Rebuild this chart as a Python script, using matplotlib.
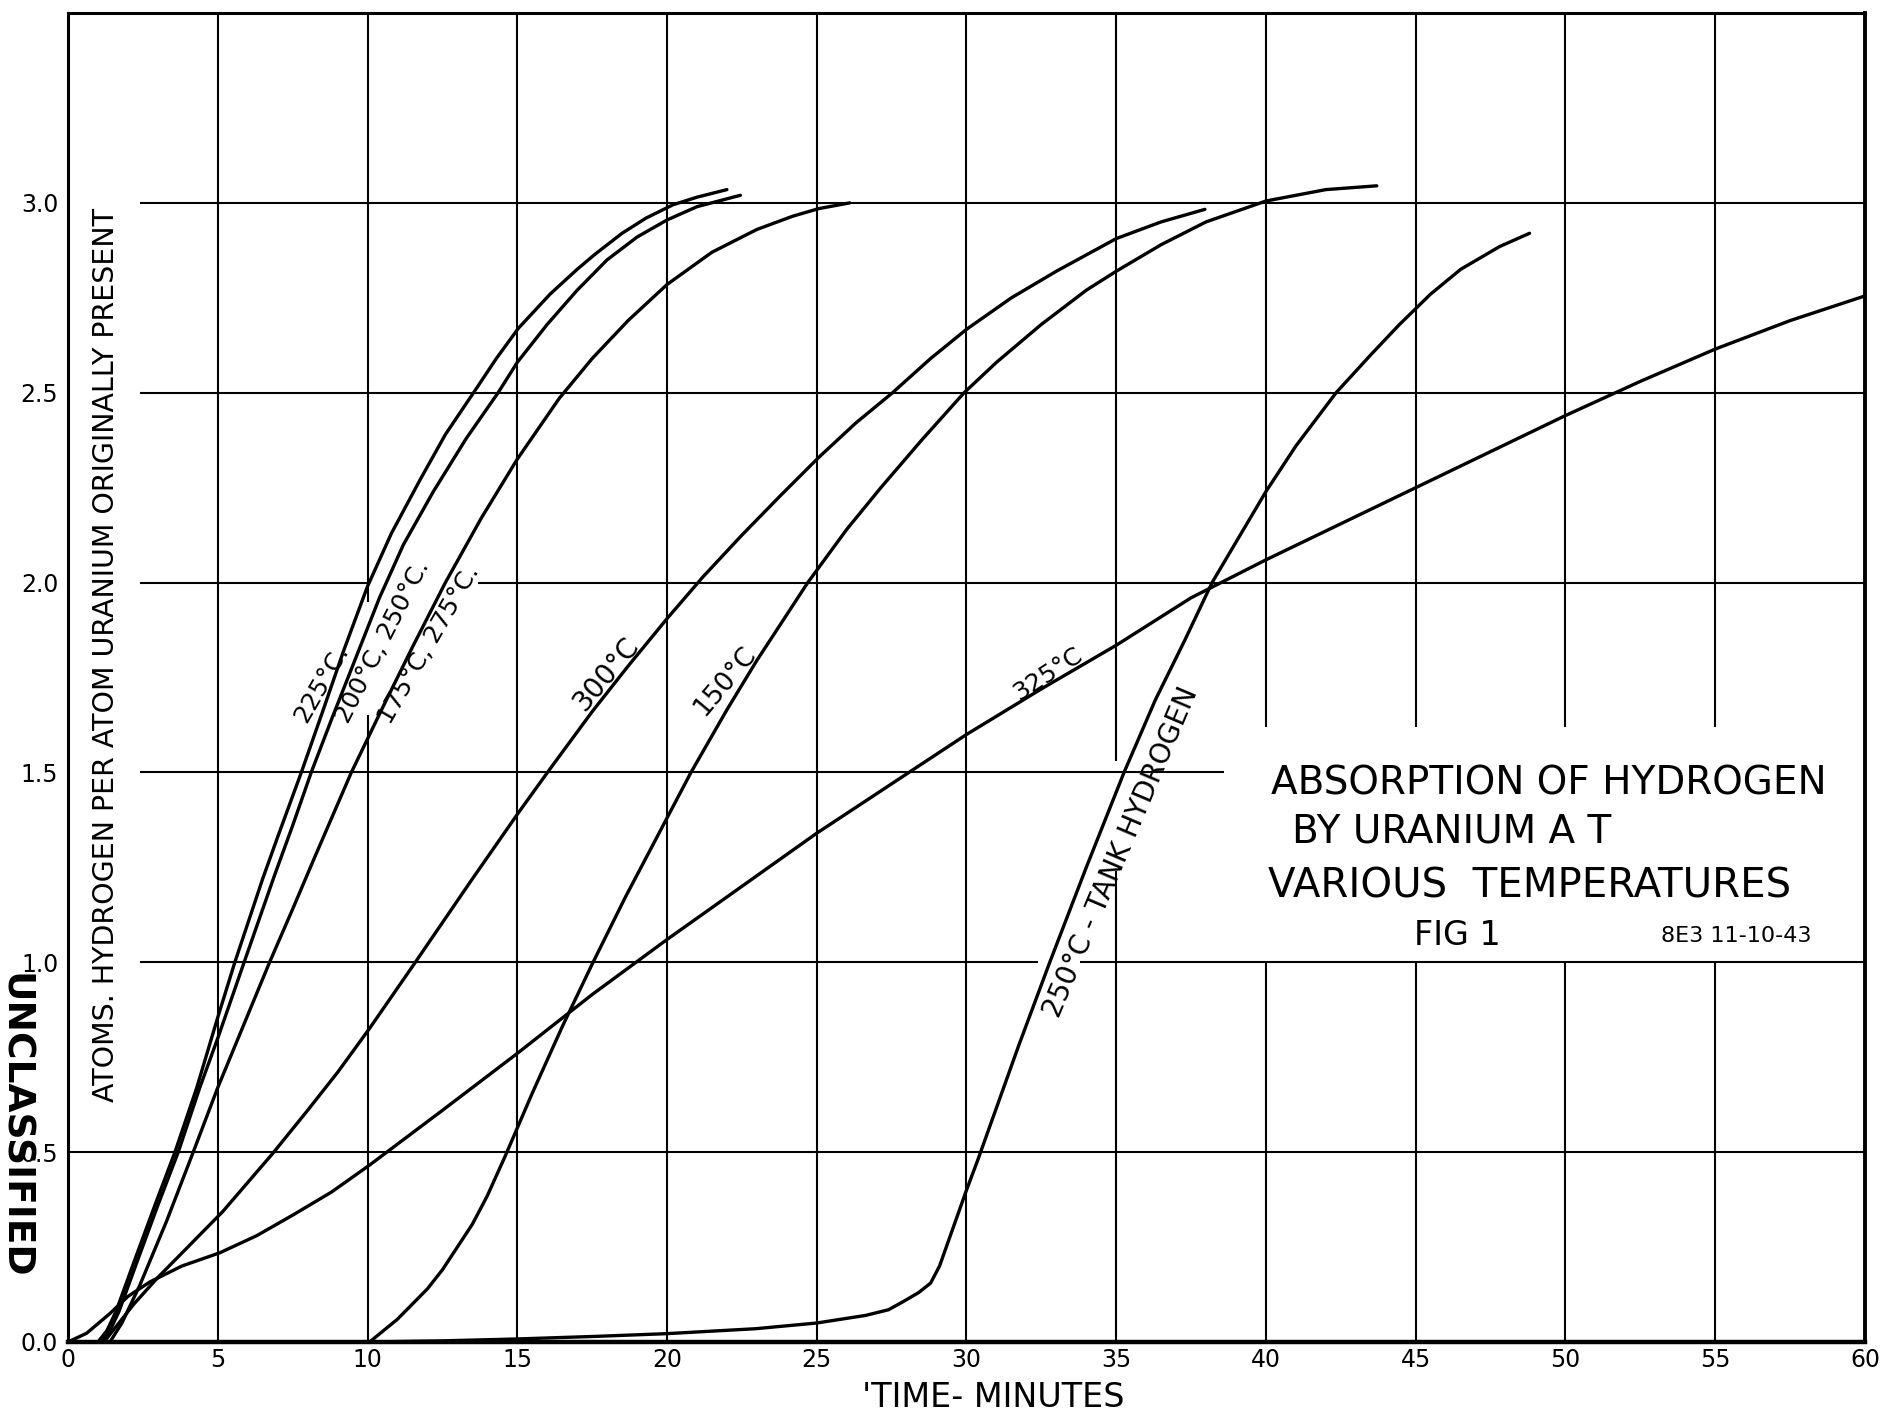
import matplotlib
matplotlib.use("Agg")
import matplotlib.pyplot as plt

# ---------------- data ----------------
t_225 = [1.0, 1.3, 1.6, 2.2, 2.9, 3.57, 4.3, 5.0, 5.57, 6.5, 7.0, 7.79, 8.5, 9.2, 10.0,
         10.8, 11.75, 12.6, 13.54, 14.3, 15.04, 16.1, 17.0, 17.6, 18.5, 19.3, 20.2, 21.0, 22.0]
h_225 = [0.0, 0.03, 0.08, 0.21, 0.36, 0.5, 0.67, 0.855, 1.0, 1.22, 1.33, 1.5, 1.66, 1.82, 1.99,
         2.13, 2.27, 2.39, 2.5, 2.59, 2.67, 2.76, 2.825, 2.865, 2.92, 2.96, 2.995, 3.015, 3.035]

t_200_250 = [1.1, 1.4, 1.7, 2.3, 3.0, 3.68, 4.4, 5.0, 5.88, 6.9, 7.5, 8.12, 8.8, 9.5, 10.4,
             11.2, 12.2, 13.3, 14.36, 15.0, 16.0, 17.0, 18.0, 19.0, 20.0, 21.0, 22.45]
h_200_250 = [0.0, 0.03, 0.08, 0.21, 0.36, 0.5, 0.67, 0.8, 1.0, 1.23, 1.36, 1.5, 1.64, 1.78, 1.96,
             2.1, 2.24, 2.38, 2.5, 2.58, 2.68, 2.77, 2.85, 2.91, 2.955, 2.99, 3.02]

t_175_275 = [1.4, 1.8, 2.4, 3.3, 4.18, 5.0, 6.73, 7.5, 8.2, 9.46, 10.5, 11.5, 12.6, 13.8,
             15.0, 16.4, 17.5, 18.7, 20.0, 21.5, 23.0, 24.2, 25.07, 26.1]
h_175_275 = [0.0, 0.05, 0.15, 0.32, 0.5, 0.67, 1.0, 1.14, 1.27, 1.5, 1.67, 1.83, 2.0, 2.17,
             2.325, 2.485, 2.59, 2.69, 2.785, 2.87, 2.93, 2.965, 2.985, 3.0]

t_300 = [1.2, 1.6, 2.2, 3.0, 4.0, 5.16, 6.0, 6.84, 8.0, 9.0, 10.07, 11.57, 13.46, 15.04, 16.1,
         17.5, 18.7, 20.0, 21.2, 22.5, 23.8, 25.07, 26.3, 27.53, 28.8, 30.0, 31.5, 33.0, 35.0,
         36.5, 37.96]
h_300 = [0.0, 0.04, 0.1, 0.17, 0.25, 0.343, 0.42, 0.497, 0.61, 0.71, 0.826, 0.997, 1.215, 1.394,
         1.51, 1.66, 1.78, 1.905, 2.015, 2.125, 2.23, 2.33, 2.42, 2.5, 2.59, 2.667, 2.75, 2.82,
         2.906, 2.95, 2.983]

t_150 = [10.07, 11.0, 12.0, 12.5, 13.0, 13.5, 14.0, 14.6, 15.5, 16.5, 17.5, 18.6, 20.0, 20.8,
         22.0, 23.0, 24.7, 26.0, 27.14, 28.5, 29.92, 31.0, 32.5, 34.0, 35.0, 36.5, 38.0, 40.0,
         42.0, 43.7]
h_150 = [0.0, 0.06, 0.14, 0.19, 0.25, 0.31, 0.385, 0.49, 0.655, 0.83, 0.995, 1.17, 1.38, 1.5,
         1.665, 1.795, 2.0, 2.14, 2.25, 2.375, 2.5, 2.58, 2.68, 2.77, 2.82, 2.89, 2.95, 3.005,
         3.035, 3.045]

t_325 = [0.0, 0.62, 1.4, 2.0, 2.73, 3.8, 5.07, 6.3, 7.5, 8.8, 10.07, 12.5, 15.0, 17.5, 20.0,
         22.5, 25.0, 27.5, 30.0, 32.5, 35.0, 37.5, 40.0, 42.5, 45.0, 47.5, 50.0, 52.5, 55.0,
         57.5, 60.0]
h_325 = [0.0, 0.023, 0.075, 0.12, 0.158, 0.2, 0.235, 0.28, 0.334, 0.395, 0.466, 0.61, 0.76,
         0.915, 1.06, 1.2, 1.34, 1.47, 1.6, 1.72, 1.835, 1.96, 2.06, 2.155, 2.25, 2.345, 2.44,
         2.53, 2.615, 2.69, 2.755]

t_tank = [10.0, 12.5, 15.0, 17.7, 20.0, 22.96, 25.0, 26.63, 27.4, 27.9, 28.4, 28.8, 29.1, 30.0,
          30.38, 31.74, 32.78, 34.0, 35.26, 36.3, 37.3, 38.2, 40.0, 41.0, 42.34, 43.5, 44.46,
          45.5, 46.5, 47.8, 48.8]
h_tank = [0.0, 0.003, 0.008, 0.015, 0.022, 0.035, 0.05, 0.07, 0.085, 0.107, 0.13, 0.155, 0.2,
          0.4, 0.48, 0.78, 1.0, 1.25, 1.5, 1.69, 1.85, 2.0, 2.24, 2.36, 2.5, 2.6, 2.68, 2.76,
          2.825, 2.885, 2.92]

x_ticks = [0, 5, 10, 15, 20, 25, 30, 35, 40, 45, 50, 55, 60]
x_tick_labels = ["0", "5", "10", "15", "20", "25", "30", "35", "40", "45", "50", "55", "60"]
y_ticks = [0.0, 0.5, 1.0, 1.5, 2.0, 2.5, 3.0]
y_tick_labels = ["0.0", "0.5", "1.0", "1.5", "2.0", "2.5", "3.0"]

curve_labels = ["225°C.", "200°C, 250°C.", "175°C, 275°C.", "300°C", "150°C", "325°C",
                "250°C - TANK HYDROGEN"]
label_t = [8.46, 10.51, 12.07, 17.98, 21.95, 32.7, 35.15]
label_h = [1.735, 1.844, 1.836, 1.76, 1.74, 1.76, 1.29]
label_rot = [60, 63, 60, 50, 50, 33, 67]
label_size = [18, 18, 18, 20, 19, 18, 20]

title_lines = ["ABSORPTION OF HYDROGEN", "BY URANIUM A T", "VARIOUS  TEMPERATURES", "FIG 1",
               "8E3 11-10-43"]
title_t = [49.45, 46.2, 48.8, 46.4, 55.7]
title_h = [1.472, 1.345, 1.20, 1.07, 1.07]
title_size = [28, 28, 29, 24, 16]

y_title = "ATOMS. HYDROGEN PER ATOM URANIUM ORIGINALLY PRESENT"
x_title = "'TIME- MINUTES"
stamp = "UNCLASSIFIED"

# ---------------- figure ----------------
plt.rcParams['font.family'] = ['DejaVu Sans']
fig = plt.figure(figsize=(18.84, 14.18), dpi=100)
fig.patch.set_facecolor("white")
ax = fig.add_axes([0.0361, 0.0536, 0.9538, 0.9372])
ax.set_xlim(0, 60)
ax.set_ylim(0, 3.5)

grid_kw = dict(color="black", lw=1.5, zorder=1)

# vertical grid lines with hand-drawn gaps
v_segments = {
    5: [(0, 3.5)],
    10: [(0, 1.65), (1.95, 3.5)],
    15: [(0, 3.5)],
    20: [(0, 3.5)],
    25: [(0, 3.5)],
    30: [(0, 3.5)],
    35: [(0, 1.24), (1.53, 3.5)],
    40: [(0, 1.0), (1.62, 3.5)],
    45: [(0, 1.0), (1.62, 3.5)],
    50: [(0, 1.0), (1.62, 3.5)],
    55: [(0, 1.0), (1.62, 3.5)],
}
for xv, segs in v_segments.items():
    for (a, b) in segs:
        ax.vlines(xv, a, b, **grid_kw)

h_segments = {
    0.5: [(0, 60)],
    1.0: [(2.4, 32.4), (33.8, 60)],
    1.5: [(2.4, 38.6)],
    2.0: [(2.4, 10.0), (13.7, 60)],
    2.5: [(2.4, 60)],
    3.0: [(2.4, 60)],
}
for yv, segs in h_segments.items():
    for (a, b) in segs:
        ax.hlines(yv, a, b, **grid_kw)

# curves
curve_kw = dict(color="black", lw=2.4, solid_capstyle="round", solid_joinstyle="round", zorder=3)
for tt, hh in [(t_225, h_225), (t_200_250, h_200_250), (t_175_275, h_175_275),
               (t_300, h_300), (t_150, h_150), (t_325, h_325), (t_tank, h_tank)]:
    ax.plot(tt, hh, **curve_kw)

# curve labels
for s, tx, hy, r, fs in zip(curve_labels, label_t, label_h, label_rot, label_size):
    ax.text(tx, hy, s, rotation=r, rotation_mode="anchor", ha="center", va="center",
            fontsize=fs, color="black", zorder=4)

# title block
for s, tx, hy, fs in zip(title_lines, title_t, title_h, title_size):
    ax.text(tx, hy, s, ha="center", va="center", fontsize=fs, color="black", zorder=4)

# y title written inside the plot
ax.text(1.27, 1.81, y_title, rotation=90, ha="center", va="center", fontsize=20.5, zorder=4)

# ticks
ax.set_xticks(x_ticks)
ax.set_xticklabels(x_tick_labels, fontsize=17)
ax.set_yticks(y_ticks)
ax.set_yticklabels(y_tick_labels, fontsize=17)
ax.tick_params(axis="x", length=0, pad=4)
ax.tick_params(axis="y", length=0, pad=7)

for side, lw in [("left", 2.2), ("bottom", 3.2), ("top", 2.2), ("right", 2.8)]:
    ax.spines[side].set_linewidth(lw)
    ax.spines[side].set_color("black")

fig.text(0.527, 0.0148, x_title, ha="center", va="center", fontsize=24)

# stamp at left edge (partly cut off, as in the scan)
fig.text(0.0074, 0.2059, stamp, rotation=-90, ha="center", va="center", fontsize=27,
         fontweight="bold")

fig.savefig("out.png", dpi=100, facecolor="white")
